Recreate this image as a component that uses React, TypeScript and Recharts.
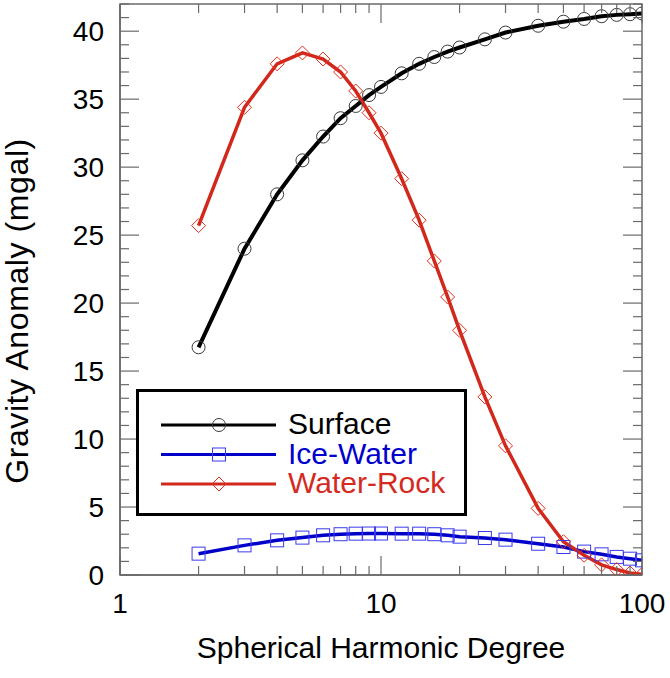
import React from 'react';
import { LineChart, Line, XAxis, YAxis, Legend, ReferenceArea } from 'recharts';

// ---- data ----
const degrees = [2, 3, 4, 5, 6, 7, 8, 9, 10, 12, 14, 16, 18, 20, 25, 30, 40, 50, 60, 70, 80, 90, 100];
const surface = [16.75, 24.0, 28.0, 30.5, 32.25, 33.6, 34.5, 35.3, 35.9, 36.9, 37.6, 38.1, 38.5, 38.8, 39.4, 39.9, 40.4, 40.7, 40.9, 41.1, 41.2, 41.25, 41.3];
const iceWater = [1.57, 2.18, 2.55, 2.75, 2.92, 3.0, 3.04, 3.05, 3.05, 3.04, 3.04, 3.0, 2.92, 2.82, 2.72, 2.6, 2.3, 2.06, 1.72, 1.52, 1.33, 1.2, 1.08];
const waterRock = [25.7, 34.4, 37.6, 38.4, 37.95, 37.0, 35.6, 34.0, 32.5, 29.15, 26.1, 23.1, 20.45, 18.0, 13.1, 9.5, 4.9, 2.45, 1.45, 0.75, 0.4, 0.15, 0.05];

const seriesOrder = ['surface', 'iceWater', 'waterRock'];
const xTicks = [1, 2, 3, 4, 5, 6, 7, 8, 9, 10, 20, 30, 40, 50, 60, 70, 80, 90, 100];
const xMajorTicks = [1, 10, 100];
const yTicks = Array.from({ length: 43 }, (_, i) => i);
const yLabelTicks = [0, 5, 10, 15, 20, 25, 30, 35, 40];

const data = degrees.map((d, i) => ({
  degree: d,
  surface: surface[i],
  iceWater: iceWater[i],
  waterRock: waterRock[i],
}));

// ---- layout / style ----
const W = 670;
const H = 678;
const MARGIN = { top: 4, right: 28, bottom: 0, left: 0 };
const Y_AXIS_W = 120;
const X_AXIS_H = 103;
const PLOT_TOP = MARGIN.top;
const PLOT_RIGHT = W - MARGIN.right;
const FONT = '"Liberation Sans", Arial, Helvetica, sans-serif';
const FRAME = '#6a6a6a';

const COLORS = {
  surface: '#000000',
  iceWater: '#0000c8',
  waterRock: '#d2281c',
};
const MARKER_COLORS = {
  surface: '#3a3a3a',
  iceWater: '#3a3af0',
  waterRock: '#e0301e',
};
const TEXT_COLORS = {
  surface: '#000000',
  iceWater: '#0000cc',
  waterRock: '#d42a1f',
};

const Marker = ({ kind, cx, cy }: { kind: string; cx: number; cy: number }) => {
  const c = (MARKER_COLORS as any)[kind];
  if (kind === 'surface') {
    return <circle cx={cx} cy={cy} r={6.5} fill="none" stroke={c} strokeWidth={1} />;
  }
  if (kind === 'iceWater') {
    return <rect x={cx - 6.5} y={cy - 6.5} width={13} height={13} fill="none" stroke={c} strokeWidth={1} />;
  }
  const r = 7;
  return (
    <path
      d={`M${cx},${cy - r} L${cx + r},${cy} L${cx},${cy + r} L${cx - r},${cy} Z`}
      fill="none"
      stroke={c}
      strokeWidth={1}
    />
  );
};

const makeDot = (kind: string) => (props: any) => (
  <Marker key={`${kind}-${props.index}`} kind={kind} cx={props.cx} cy={props.cy} />
);

const XTick = (props: any) => {
  const { x, y, payload } = props;
  const v = payload.value;
  const major = xMajorTicks.includes(v);
  const len = major ? 19 : 9;
  return (
    <g>
      <line x1={x} y1={y} x2={x} y2={y - len} stroke={FRAME} strokeWidth={1.2} />
      <line x1={x} y1={PLOT_TOP} x2={x} y2={PLOT_TOP + len} stroke={FRAME} strokeWidth={1.2} />
      {major && (
        <text x={x} y={y + 38} textAnchor="middle" fontFamily={FONT} fontSize={28} fill="#000">
          {v}
        </text>
      )}
    </g>
  );
};

const YTick = (props: any) => {
  const { x, y, payload } = props;
  const v = payload.value;
  const major = v % 5 === 0;
  const len = major ? 19 : 9;
  return (
    <g>
      <line x1={x} y1={y} x2={x + len} y2={y} stroke={FRAME} strokeWidth={1.2} />
      <line x1={PLOT_RIGHT} y1={y} x2={PLOT_RIGHT - len} y2={y} stroke={FRAME} strokeWidth={1.2} />
      {yLabelTicks.includes(v) && (
        <text x={x - 16} y={y + 10} textAnchor="end" fontFamily={FONT} fontSize={28} fill="#000">
          {v}
        </text>
      )}
    </g>
  );
};

const YTitle = (props: any) => {
  const cx = 28;
  const cy = 311;
  return (
    <text
      x={cx}
      y={cy}
      transform={`rotate(-90 ${cx} ${cy})`}
      textAnchor="middle"
      fontFamily={FONT}
      fontSize={32}
      letterSpacing={0.6}
      fill="#000"
    >
      {props.value}
    </text>
  );
};

const XTitle = (props: any) => {
  const vb = props.viewBox || {};
  const cx = (vb.x ?? 120) + (vb.width ?? 522) / 2;
  return (
    <text x={cx} y={658} textAnchor="middle" fontFamily={FONT} fontSize={30} fill="#000">
      {props.value}
    </text>
  );
};

const LEG_W = 331;
const LEG_H = 127;

const renderLegend = (props: any) => {
  const payload = [...(props.payload || [])].sort(
    (a: any, b: any) => seriesOrder.indexOf(a.dataKey) - seriesOrder.indexOf(b.dataKey)
  );
  return (
    <svg width={LEG_W} height={LEG_H} style={{ display: 'block' }}>
      <rect x={1.5} y={1.5} width={LEG_W - 3} height={LEG_H - 3} fill="#fff" stroke="#000" strokeWidth={3} />
      {payload.map((entry: any, i: number) => {
        const key = entry.dataKey as string;
        const ly = 36 + i * 29.5;
        return (
          <g key={key}>
            <line x1={25} y1={ly} x2={140} y2={ly} stroke={(COLORS as any)[key]} strokeWidth={3} />
            <Marker kind={key} cx={83} cy={ly} />
            <text x={152} y={ly + 9} fontFamily={FONT} fontSize={30} fill={(TEXT_COLORS as any)[key]}>
              {entry.value}
            </text>
          </g>
        );
      })}
    </svg>
  );
};

export default function App() {
  return (
    <div style={{ position: 'absolute', left: 0, top: 0, width: W, height: H, background: '#fff' }}>
      <LineChart width={W} height={H} data={data} margin={MARGIN}>
        <XAxis
          dataKey="degree"
          type="number"
          scale="log"
          domain={[1, 100]}
          allowDataOverflow
          ticks={xTicks}
          interval={0}
          tickSize={0}
          tickMargin={0}
          tick={<XTick />}
          height={X_AXIS_H}
          axisLine={{ stroke: FRAME, strokeWidth: 1.5 }}
          tickLine={false}
          label={{ value: 'Spherical Harmonic Degree', content: (p: any) => <XTitle {...p} value="Spherical Harmonic Degree" /> }}
        />
        <YAxis
          type="number"
          domain={[0, 42]}
          allowDataOverflow
          ticks={yTicks}
          interval={0}
          tickSize={0}
          tickMargin={0}
          tick={<YTick />}
          width={Y_AXIS_W}
          axisLine={{ stroke: FRAME, strokeWidth: 1.5 }}
          tickLine={false}
          label={{ value: 'Gravity Anomaly (mgal)', content: (p: any) => <YTitle {...p} value="Gravity Anomaly (mgal)" /> }}
        />
        <ReferenceArea x1={1} x2={100} y1={0} y2={42} fill="none" stroke={FRAME} strokeWidth={1.5} ifOverflow="visible" />
        <Line
          type="linear"
          dataKey="surface"
          name="Surface"
          stroke={COLORS.surface}
          strokeWidth={4}
          dot={makeDot('surface')}
          activeDot={false}
          isAnimationActive={false}
        />
        <Line
          type="linear"
          dataKey="iceWater"
          name="Ice-Water"
          stroke={COLORS.iceWater}
          strokeWidth={3.5}
          dot={makeDot('iceWater')}
          activeDot={false}
          isAnimationActive={false}
        />
        <Line
          type="linear"
          dataKey="waterRock"
          name="Water-Rock"
          stroke={COLORS.waterRock}
          strokeWidth={3.5}
          dot={makeDot('waterRock')}
          activeDot={false}
          isAnimationActive={false}
        />
        <Legend
          content={renderLegend}
          layout="horizontal"
          verticalAlign="middle"
          align="center"
          wrapperStyle={{ position: 'absolute', left: 136, top: 389, width: LEG_W, height: LEG_H }}
        />
      </LineChart>
    </div>
  );
}
